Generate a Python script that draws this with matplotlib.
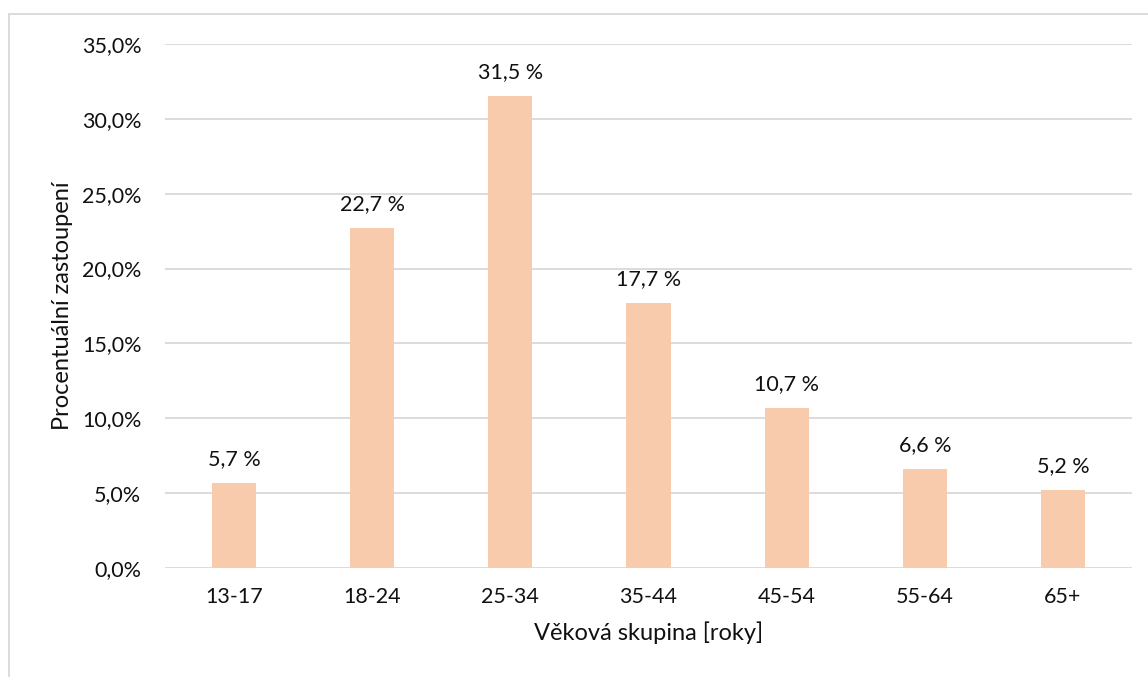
import numpy as np
import matplotlib.pyplot as plt
from matplotlib.patches import Rectangle

# věkové skupiny a jejich podíl v %
skupiny = ["13-17", "18-24", "25-34", "35-44", "45-54", "55-64", "65+"]
podil = [5.7, 22.7, 31.5, 17.7, 10.7, 6.6, 5.2]
yticks = [0, 5, 10, 15, 20, 25, 30, 35]

plt.rcParams['font.family'] = ['Lato', 'DejaVu Sans']

fig = plt.figure(figsize=(11.48, 6.77), dpi=100)
ax = fig.add_axes([165 / 1148, 1 - 568 / 677, (1132 - 165) / 1148, (568 - 44) / 677])

x = np.arange(len(skupiny))
bars = ax.bar(x, podil, width=0.32, color="#F8CBAD", zorder=3)

for xi, v in zip(x, podil):
    ax.annotate(f"{v:.1f} %".replace(".", ","), (xi, v), xytext=(0, 10),
                textcoords="offset points", ha="center", va="bottom",
                fontsize=15.5, color="#111111")

ax.set_xlim(-0.5, len(skupiny) - 0.5)
ax.set_ylim(0, 35)
ax.set_yticks(yticks)
ax.set_yticklabels([f"{t:.1f}%".replace(".", ",") for t in yticks])
ax.set_xticks(x)
ax.set_xticklabels(skupiny)
ax.tick_params(axis="both", length=0, labelsize=15.5, colors="#111111")
ax.tick_params(axis="y", pad=17)
ax.tick_params(axis="x", pad=14)
ax.grid(axis="y", color="#D9D9D9", linewidth=1.3, zorder=0)
for s in ax.spines.values():
    s.set_visible(False)

ax.set_xlabel("Věková skupina [roky]", fontsize=17, color="#111111", labelpad=10)
ax.set_ylabel("Procentuální zastoupení", fontsize=17, color="#111111", labelpad=6)

# rámeček grafu
fig.patches.append(Rectangle((9 / 1148, -0.1), 1.2, 1.1 - 14 / 677, transform=fig.transFigure,
                             fill=False, edgecolor="#D9D9D9", linewidth=1.3))

fig.savefig("out.png", dpi=100)
